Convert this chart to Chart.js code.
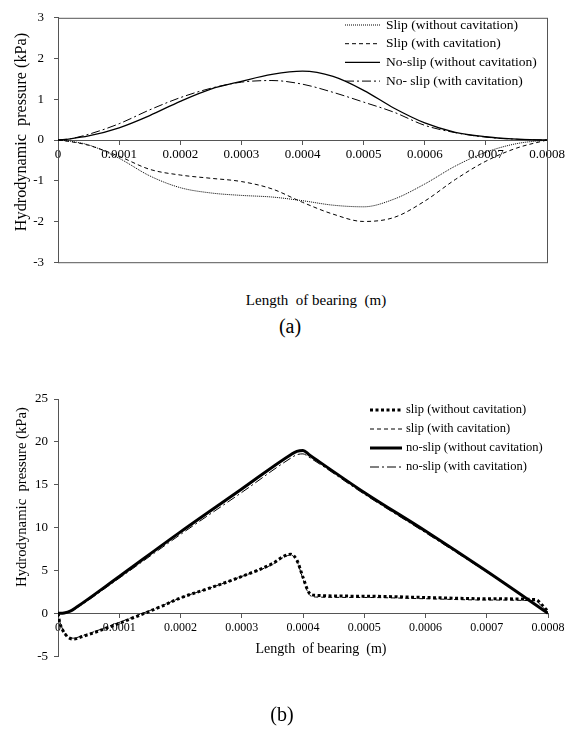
<!DOCTYPE html>
<html>
<head>
<meta charset="utf-8">
<script src="https://cdn.jsdelivr.net/npm/chart.js@4.4.1/dist/chart.umd.min.js"></script>
<style>
  html, body { margin: 0; padding: 0; background: #fff; }
  body { width: 573px; height: 729px; position: relative; overflow: hidden;
         font-family: "Liberation Serif", "Times New Roman", serif; color: #000; }
  .box { position: absolute; left: 0; width: 573px; }
  .lbl { position: absolute; white-space: pre; line-height: 1; transform: translate(-50%, -50%); }
  .rot { transform: translate(-50%, -50%) rotate(-90deg); }
</style>
</head>
<body>
<div class="box" style="top:0;height:280px"><canvas id="chartA"></canvas></div>
<div class="box" style="top:360px;height:310px"><canvas id="chartB"></canvas></div>

<div class="lbl rot" style="left:21px;top:132px;font-size:16.2px">Hydrodynamic  pressure (kPa)</div>
<div class="lbl" style="left:316px;top:300px;font-size:15px">Length  of bearing  (m)</div>
<div class="lbl" style="left:290px;top:326px;font-size:20px">(a)</div>

<div class="lbl rot" style="left:21px;top:497px;font-size:14.7px">Hydrodynamic  pressure (kPa)</div>
<div class="lbl" style="left:321px;top:649px;font-size:14px">Length  of bearing  (m)</div>
<div class="lbl" style="left:282px;top:714px;font-size:20px">(b)</div>

<script>
// ---- chart (a): smooth pressure profiles ----
const lengthA = [0, 0.00002, 0.00005, 0.0001, 0.00015, 0.0002, 0.00025, 0.0003, 0.00035,
                 0.0004, 0.00045, 0.0005, 0.00055, 0.0006, 0.00065, 0.0007, 0.00075, 0.0008];
const slipDryA   = [0, -0.03, -0.12, -0.45, -0.88, -1.17, -1.30, -1.36, -1.40,
                    -1.49, -1.60, -1.64, -1.45, -1.08, -0.64, -0.30, -0.09, 0];
const slipCavA   = [0, -0.04, -0.13, -0.40, -0.72, -0.86, -0.94, -1.02, -1.20,
                    -1.53, -1.82, -2.00, -1.90, -1.50, -0.97, -0.52, -0.20, 0];
const noSlipDryA = [0, 0.03, 0.10, 0.30, 0.60, 0.95, 1.25, 1.44, 1.61,
                    1.69, 1.56, 1.22, 0.78, 0.42, 0.19, 0.08, 0.02, 0];
const noSlipCavA = [0, 0.03, 0.14, 0.40, 0.74, 1.04, 1.27, 1.42, 1.46,
                    1.37, 1.17, 0.93, 0.68, 0.36, 0.18, 0.07, 0.02, 0];
const ticksA = { xStep: 0.0001, yMin: -3, yMax: 3, yStep: 1 };

// ---- chart (b): piecewise profiles ----
const noSlipX    = [0, 0.00001, 0.00002, 0.00003, 0.0001, 0.0002, 0.0003, 0.00038, 0.00039,
                    0.0004, 0.00041, 0.0005, 0.0006, 0.0007, 0.0008];
const noSlipDryB = [0, 0.05, 0.25, 0.7, 4.3, 9.5, 14.5, 18.5, 18.9, 19.0, 18.5, 14.1, 9.6, 4.9, 0];
const noSlipCavB = [0, 0.03, 0.2, 0.6, 4.1, 9.2, 14.1, 18.1, 18.5, 18.6, 18.2, 13.9, 9.4, 4.8, 0];

const slipX      = [0, 0.000003, 0.000008, 0.000015, 0.000025, 0.00004, 0.00008, 0.00012, 0.00017,
                    0.0002, 0.00025, 0.0003, 0.00035, 0.00037, 0.00038, 0.00039, 0.0004, 0.00041,
                    0.00042, 0.0005, 0.0006, 0.0007, 0.00078, 0.00079, 0.0008];
const slipDryB   = [0, -1.1, -2.0, -2.7, -3.0, -2.7, -1.7, -0.6, 0.85, 1.8, 3.0, 4.3, 5.8, 6.7,
                    6.9, 6.2, 4.2, 2.4, 2.1, 2.0, 1.85, 1.7, 1.6, 1.0, 0.2];
const slipCavB   = [0, -1.0, -1.9, -2.6, -2.9, -2.6, -1.6, -0.5, 0.9, 1.8, 3.0, 4.3, 5.7, 6.6,
                    6.8, 6.1, 4.0, 2.2, 1.9, 1.85, 1.7, 1.55, 1.45, 0.8, 0.1];
const ticksB = { xStep: 0.0001, yMin: -5, yMax: 25, yStep: 5 };

const SERIF = '"Liberation Serif", "Times New Roman", serif';
const AXIS = '#555';

const pts = (xs, ys) => xs.map((x, i) => ({ x, y: ys[i] }));

// legend drawn inside the plot, one row per dataset
const insideLegend = {
  id: 'insideLegend',
  afterDraw(chart, args, o) {
    const { ctx } = chart;
    ctx.save();
    ctx.font = `${o.size}px ${SERIF}`;
    ctx.textBaseline = 'middle';
    ctx.fillStyle = '#000';
    chart.data.datasets.forEach((ds, i) => {
      const y = o.y + i * o.rowGap;
      ctx.beginPath();
      ctx.setLineDash(ds.borderDash || []);
      ctx.lineWidth = ds.borderWidth;
      ctx.strokeStyle = ds.borderColor;
      ctx.moveTo(o.x, y);
      ctx.lineTo(o.x + o.len, y);
      ctx.stroke();
      ctx.setLineDash([]);
      ctx.fillText(ds.label, o.x + o.len + o.gap, y);
    });
    ctx.restore();
  }
};

// box around plot (a)
const frame = {
  id: 'frame',
  beforeDatasetsDraw(chart, args, o) {
    if (!o.show) return;
    const { ctx, chartArea: a } = chart;
    ctx.save();
    ctx.strokeStyle = AXIS;
    ctx.lineWidth = 1;
    ctx.strokeRect(a.left + 0.5, a.top + 0.5, a.width, a.height);
    ctx.restore();
  }
};

const fmtX = v => Math.abs(v) < 1e-12 ? '0' : v.toFixed(4);

function line(label, xs, ys, width, dash) {
  return {
    label, data: pts(xs, ys),
    borderColor: '#000', borderWidth: width, borderDash: dash,
    pointRadius: 0, fill: false, cubicInterpolationMode: 'monotone'
  };
}

function makeChart(id, datasets, t, opt) {
  return new Chart(document.getElementById(id), {
    type: 'line',
    data: { datasets },
    plugins: [frame, insideLegend],
    options: {
      animation: false,
      responsive: true,
      maintainAspectRatio: false,
      layout: { padding: opt.padding },
      plugins: {
        legend: { display: false },
        tooltip: { enabled: false },
        frame: { show: opt.frame },
        insideLegend: opt.legend
      },
      scales: {
        x: {
          type: 'linear', min: 0, max: 0.0008,
          position: { y: 0 },
          ticks: { stepSize: t.xStep, autoSkip: false, maxRotation: 0, padding: 3,
                   color: '#000', font: { family: SERIF, size: opt.xFont }, callback: fmtX },
          grid: { drawOnChartArea: false, tickLength: 4, color: AXIS },
          border: { color: AXIS }
        },
        y: {
          min: t.yMin, max: t.yMax,
          ticks: { stepSize: t.yStep, padding: opt.yPad, color: '#000',
                   font: { family: SERIF, size: opt.yFont } },
          grid: { drawOnChartArea: false, tickLength: 4, color: AXIS },
          border: { color: AXIS },
          afterFit(s) { s.width = 58; }
        }
      }
    }
  });
}

makeChart('chartA', [
  line('Slip (without cavitation)', lengthA, slipDryA, 1, [1, 1]),
  line('Slip (with cavitation)', lengthA, slipCavA, 1, [4, 3]),
  line('No-slip (without cavitation)', lengthA, noSlipDryA, 1.3, []),
  line('No- slip (with cavitation)', lengthA, noSlipCavA, 1, [9, 3, 2, 3])
], ticksA, {
  padding: { left: 0, right: 26, top: 11, bottom: 10 },
  frame: true, xFont: 13, yFont: 13, yPad: 10,
  legend: { x: 345, y: 25, rowGap: 18.7, len: 35, gap: 6, size: 13.5 }
});

makeChart('chartB', [
  line('slip (without cavitation)', slipX, slipDryB, 3, [3, 2.5]),
  line('slip (with cavitation)', slipX, slipCavB, 1, [4, 3]),
  line('no-slip (without cavitation)', noSlipX, noSlipDryB, 3, []),
  line('no-slip (with cavitation)', noSlipX, noSlipCavB, 1, [9, 3, 2, 3])
], ticksB, {
  padding: { left: 0, right: 25, top: 39, bottom: 13 },
  frame: false, xFont: 12, yFont: 13, yPad: 6,
  legend: { x: 370, y: 50, rowGap: 19, len: 32, gap: 4, size: 12.5 }
});
</script>
</body>
</html>
